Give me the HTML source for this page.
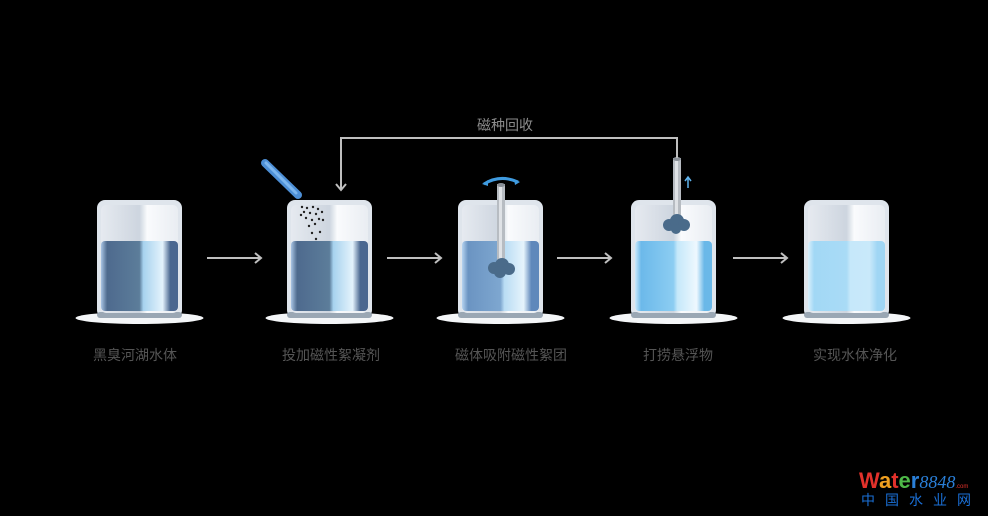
<!DOCTYPE html>
<html><head><meta charset="utf-8"><style>
html,body{margin:0;padding:0;background:#000;}
svg{display:block}
text{font-family:"Liberation Sans","Noto Sans CJK SC",sans-serif;}
</style></head><body>
<svg width="988" height="516" viewBox="0 0 988 516" xmlns="http://www.w3.org/2000/svg">
<defs>
<linearGradient id="gl" x1="0" x2="1"><stop offset="0" stop-color="#e6eaf0"/><stop offset="0.5" stop-color="#cdd5df"/><stop offset="0.6" stop-color="#fafbfd"/><stop offset="1" stop-color="#e9edf2"/></linearGradient>
<linearGradient id="w1" x1="0" x2="1"><stop offset="0" stop-color="#a9c4e4"/><stop offset="0.08" stop-color="#4e6a8e"/><stop offset="0.5" stop-color="#5c7d9a"/><stop offset="0.55" stop-color="#a7d2ee"/><stop offset="0.8" stop-color="#e4f3fc"/><stop offset="0.9" stop-color="#4a6790"/></linearGradient>
<linearGradient id="w3" x1="0" x2="1"><stop offset="0" stop-color="#b6d3f0"/><stop offset="0.08" stop-color="#6b94c2"/><stop offset="0.5" stop-color="#7ea7d0"/><stop offset="0.55" stop-color="#b9dcf4"/><stop offset="0.8" stop-color="#e6f4fc"/><stop offset="0.9" stop-color="#5f88bb"/></linearGradient>
<linearGradient id="w4" x1="0" x2="1"><stop offset="0" stop-color="#cdeafb"/><stop offset="0.08" stop-color="#6cb9ea"/><stop offset="0.5" stop-color="#8ccdf2"/><stop offset="0.55" stop-color="#c5e8fa"/><stop offset="0.8" stop-color="#eef8fe"/><stop offset="0.9" stop-color="#6ab8e8"/></linearGradient>
<linearGradient id="w5" x1="0" x2="1"><stop offset="0" stop-color="#d9f0fc"/><stop offset="0.08" stop-color="#a2d8f5"/><stop offset="0.5" stop-color="#a9dbf6"/><stop offset="0.55" stop-color="#c6e8fa"/><stop offset="0.8" stop-color="#c9e9fa"/><stop offset="0.9" stop-color="#a0d6f4"/></linearGradient>
<g id="glassTop">
<ellipse cx="42.5" cy="118" rx="64" ry="6" fill="#f4f6f8"/>
<rect x="0" y="0" width="85" height="118" rx="8" fill="#dfe5ec"/>
<rect x="0" y="112" width="85" height="6" rx="3" fill="#9aa7b4"/>
<rect x="4" y="5" width="77" height="108" rx="5" fill="url(#gl)"/>
</g>
</defs>
<g transform="translate(97,200)"><use href="#glassTop"/><rect x="4" y="41" width="77" height="70" rx="4" fill="url(#w1)"/></g>
<g transform="translate(287,200)"><use href="#glassTop"/><rect x="4" y="41" width="77" height="70" rx="4" fill="url(#w1)"/>
<g fill="#222"><circle cx="15" cy="7" r="1.2"/><circle cx="20" cy="8" r="1.2"/><circle cx="26" cy="7" r="1.2"/><circle cx="31" cy="9" r="1.2"/><circle cx="17" cy="12" r="1.2"/><circle cx="23" cy="13" r="1.2"/><circle cx="29" cy="14" r="1.2"/><circle cx="35" cy="12" r="1.2"/><circle cx="19" cy="18" r="1.2"/><circle cx="25" cy="20" r="1.2"/><circle cx="32" cy="19" r="1.2"/><circle cx="22" cy="26" r="1.2"/><circle cx="28" cy="24" r="1.2"/><circle cx="36" cy="20" r="1.2"/><circle cx="14" cy="15" r="1.2"/><circle cx="33" cy="32" r="1.2"/><circle cx="25" cy="33" r="1.2"/><circle cx="29" cy="39" r="1.2"/></g></g>
<line x1="265" y1="163" x2="298" y2="195" stroke="#4d8fd6" stroke-width="8" stroke-linecap="round"/>
<line x1="266" y1="163" x2="296" y2="193" stroke="#7db6ee" stroke-width="3" stroke-linecap="round"/>
<g transform="translate(458,200)"><use href="#glassTop"/><rect x="4" y="41" width="77" height="70" rx="4" fill="url(#w3)"/></g>
<rect x="497" y="184" width="8" height="76" fill="#b7bcc2"/><rect x="499" y="184" width="3" height="76" fill="#dfe2e6"/>
<ellipse cx="501" cy="185" rx="4" ry="2" fill="#8a9098"/>
<g fill="#4a6b8a"><circle cx="494" cy="268" r="6"/><circle cx="502" cy="265" r="7"/><circle cx="509" cy="269" r="6"/><circle cx="500" cy="272" r="6"/></g>
<path d="M484 184 Q500 174 518 182" stroke="#3f9be0" stroke-width="3" fill="none"/>
<path d="M482 184 l6 -4 l0 6z M520 182 l-6 -3 l1 6z" fill="#3f9be0"/>
<g transform="translate(631,200)"><use href="#glassTop"/><rect x="4" y="41" width="77" height="70" rx="4" fill="url(#w4)"/></g>
<rect x="673" y="158" width="8" height="64" fill="#b7bcc2"/><rect x="675" y="158" width="3" height="64" fill="#dfe2e6"/>
<ellipse cx="677" cy="159" rx="4" ry="2" fill="#8a9098"/>
<g fill="#4a6b8a"><circle cx="669" cy="225" r="6"/><circle cx="677" cy="221" r="7"/><circle cx="684" cy="225" r="6"/><circle cx="676" cy="229" r="5"/></g>
<path d="M688 188 v-10 M685 181 l3 -4 l3 4" stroke="#5fb2ec" stroke-width="1.5" fill="none"/>
<g transform="translate(804,200)"><use href="#glassTop"/><rect x="4" y="41" width="77" height="70" rx="4" fill="url(#w5)"/></g>
<g stroke="#bfbfbf" stroke-width="2" fill="none">
<path d="M207 258 H261 M255 253 L261 258 L255 263"/>
<path d="M387 258 H441 M435 253 L441 258 L435 263"/>
<path d="M557 258 H611 M605 253 L611 258 L605 263"/>
<path d="M733 258 H787 M781 253 L787 258 L781 263"/>
<path d="M677 158 V138 H341 V190 M336 184 L341 190 L346 184"/>
</g>
<text x="505" y="130" font-size="14" fill="#8c8c8c" text-anchor="middle">磁种回收</text>
<g font-size="14" fill="#555" text-anchor="middle">
<text x="135" y="360">黑臭河湖水体</text>
<text x="331" y="360">投加磁性絮凝剂</text>
<text x="511" y="360">磁体吸附磁性絮团</text>
<text x="678" y="360">打捞悬浮物</text>
<text x="855" y="360">实现水体净化</text>
</g>
<text x="859" y="488" font-size="22" font-weight="bold"><tspan fill="#e2312b">W</tspan><tspan fill="#f0a020">a</tspan><tspan fill="#e2312b">t</tspan><tspan fill="#4db848">e</tspan><tspan fill="#2a7fd8">r</tspan><tspan fill="#2a7fd8" font-style="italic" font-weight="normal" font-family="Liberation Serif" font-size="18">8848</tspan><tspan fill="#e2312b" font-size="6" font-weight="normal">.com</tspan></text>
<text x="861" y="505" font-size="14" fill="#1a6fd6" letter-spacing="10">中国水业网</text>
</svg>
</body></html>
